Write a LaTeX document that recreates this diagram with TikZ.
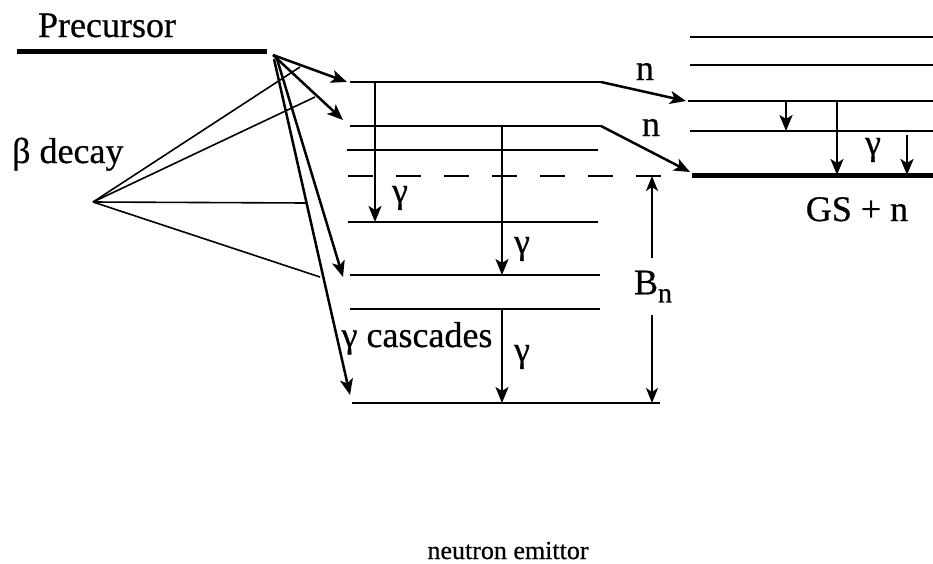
\documentclass[tikz,border=0pt]{standalone}
\usepackage{fontspec}
\setmainfont{Liberation Serif}[FakeBold=0.6]
\usetikzlibrary{arrows.meta}
\begin{document}
\begin{tikzpicture}[x=1pt,y=-1pt,
  lvl/.style={line width=2.8pt},
  thicklvl/.style={line width=5pt},
  fanline/.style={line width=1.6pt},
  arr/.style={line width=2.5pt,-{Stealth[length=16pt,width=13pt,inset=4pt]}},
  big/.style={font=\fontsize{36}{40}\selectfont, inner sep=0pt},
  small/.style={font=\fontsize{26}{30}\selectfont, inner sep=0pt}]
\useasboundingbox (0,0) rectangle (933,563);
% precursor
\coordinate (p0) at (17,51); \coordinate (p1) at (267,51);
\draw[thicklvl] (p0) -- (p1);
\node[big, anchor=base] (prec) at (107,37) {Precursor};
\coordinate (apex) at (273,55);
\coordinate (apexA) at (274,59);
\coordinate (apexB) at (277,59);
% left levels
\coordinate (L1a) at (350,82);  \coordinate (L1b) at (601,82);
\coordinate (L2a) at (350,126); \coordinate (L2b) at (601,126);
\coordinate (L3a) at (347,150); \coordinate (L3b) at (598,150);
\coordinate (Da) at (348,176);  \coordinate (Db) at (663,176);
\coordinate (L4a) at (348,222); \coordinate (L4b) at (598,222);
\coordinate (L5a) at (350,275); \coordinate (L5b) at (600,275);
\coordinate (L6a) at (350,309); \coordinate (L6b) at (600,309);
\coordinate (L7a) at (352,403); \coordinate (L7b) at (660,403);
\foreach \l in {L1,L2,L3,L4,L5,L6,L7} \draw[lvl] (\l a) -- (\l b);
\draw[lvl, dash pattern=on 25pt off 23pt] (Da) -- (Db);
% right levels
\coordinate (R1a) at (690,37);  \coordinate (R1b) at (933,37);
\coordinate (R2a) at (690,65);  \coordinate (R2b) at (933,65);
\coordinate (R3a) at (688,101); \coordinate (R3b) at (933,101);
\coordinate (R4a) at (690,131); \coordinate (R4b) at (933,131);
\coordinate (GSa) at (692,175); \coordinate (GSb) at (933,175);
\foreach \l in {R1,R2,R3,R4} \draw[lvl] (\l a) -- (\l b);
\draw[thicklvl] (GSa) -- (GSb);
% beta decay fan
\node[big, anchor=base west] (beta) at (12,163) {β decay};
\coordinate (fan) at (93,202);
\coordinate (f1) at (300,67);
\coordinate (f2) at (315,97);
\coordinate (f3) at (307,203);
\coordinate (f4) at (320,277);
\foreach \f in {f1,f2,f3,f4} \draw[fanline] (fan) -- (\f);
% beta feeding arrows
\draw[arr] (apex) -- ([xshift=-3pt]L1a);
\draw[arr] (apex) -- (343,120) coordinate (t2);
\draw[arr] (apexB) -- (343,277) coordinate (t3);
\draw[arr] (apexA) -- (350,395) coordinate (t4);
% gamma transitions left
\coordinate (g1s) at (375,82);  \coordinate (g1e) at (375,222);
\coordinate (g2s) at (502,126); \coordinate (g2e) at (502,275);
\coordinate (g3s) at (502,309); \coordinate (g3e) at (502,403);
\draw[arr] (g1s) -- (g1e);
\draw[arr] (g2s) -- (g2e);
\draw[arr] (g3s) -- (g3e);
\node[big] (gam1) at (400,198) {γ};
\node[big] (gam2) at (522,249) {γ};
\node[big] (gam3) at (522,357) {γ};
\node[big, anchor=base] (casc) at (417,347) {γ cascades};
% B_n
\node[big, minimum height=57pt, inner sep=0pt] (Bn) at (653,286.5)
  {B\raisebox{-8pt}{\fontsize{28}{30}\selectfont n}};
\draw[line width=2pt,-{Stealth[length=15pt,width=12pt,inset=4pt]}] ([xshift=-1pt]Bn.north) -- (652,176);
\draw[line width=2pt,-{Stealth[length=15pt,width=12pt,inset=4pt]}] ([xshift=-1pt]Bn.south) -- (652,403);
% neutron emission
\draw[arr] (L1b) -- ([xshift=-2pt]R3a);
\draw[arr] (L2b) -- (690,172);
\node[big, anchor=base] (n1) at (645,80) {n};
\node[big, anchor=base] (n2) at (651,136) {n};
% gamma transitions right
\draw[arr] (786,101) -- (786,131);
\draw[arr] (837,101) -- (837,175);
\draw[arr] (907,135) -- (907,175);
\node[big] (gam4) at (873,150) {γ};
\node[big, anchor=base] (gs) at (857,221) {GS + n};
\node[small, anchor=base] (ne) at (508,559) {neutron emittor};
\end{tikzpicture}
\end{document}
